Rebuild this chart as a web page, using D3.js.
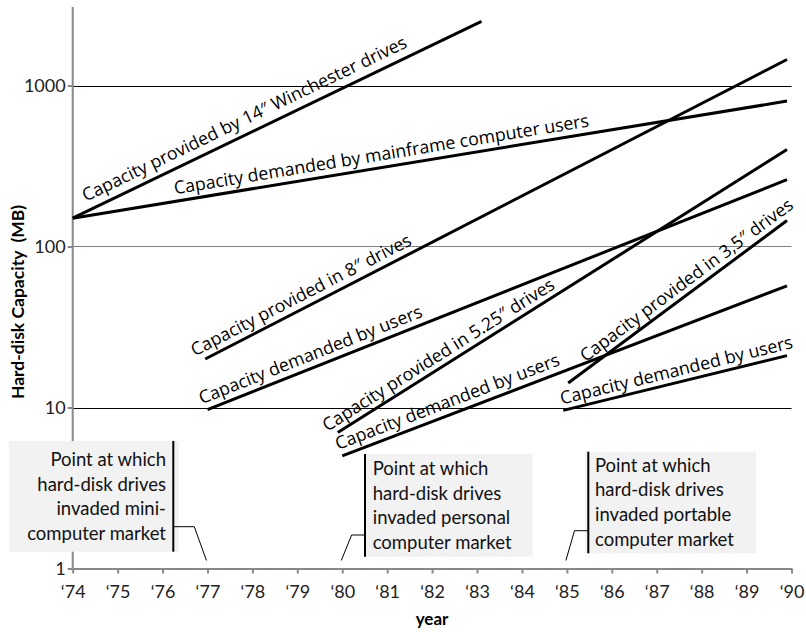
<!DOCTYPE html>
<html><head><meta charset="utf-8">
<script src="https://cdn.jsdelivr.net/npm/d3@7"></script>
<style>body{margin:0;background:#fff} svg{display:block}</style>
</head><body><svg id="c" width="806" height="632"></svg>
<script>
// ---- data ----
const years = [74,75,76,77,78,79,80,81,82,83,84,85,86,87,88,89,90];
const yearLabels = ["‘74","‘75","‘76","‘77","‘78","‘79","‘80","‘81","‘82","‘83","‘84","‘85","‘86","‘87","‘88","‘89","‘90"];
const yTicks = [1,10,100,1000];
const yTickLabels = ["1","10","100","1000"];
const seriesLabels = [
  "Capacity provided by 14″ Winchester drives",
  "Capacity demanded by mainframe computer users",
  "Capacity provided in 8″ drives",
  "Capacity demanded by users",
  "Capacity provided in 5.25″ drives",
  "Capacity demanded by users",
  "Capacity provided in 3,5″ drives",
  "Capacity demanded by users"
];
const startYear  = [74, 74, 76.95, 77, 79.9, 80, 85.03, 84.92];
const startValue = [150, 150, 20, 9.7, 7, 5, 14.2, 9.6];
const endYear    = [83.1, 89.9, 89.9, 89.9, 89.9, 89.9, 89.9, 89.9];
const endValue   = [2500, 800, 1450, 260, 400, 57, 145, 21];
const notes = [
  ["Point at which","hard-disk drives","invaded mini-","computer market"],
  ["Point at which","hard-disk drives","invaded personal","computer market"],
  ["Point at which","hard-disk drives","invaded portable","computer market"]
];
const noteYears = [77, 80, 85];

// ---- layout ----
const labelAt  = [74.38, 76.3, 76.79, 76.93, 79.74, 79.96, 85.5, 84.92]; // year along the line where text starts
const labelOff = [9, 7, 7, 7, 6, 7, 6, 6];

const svg = d3.select("#c");
const x = d3.scaleLinear().domain([74,90]).range([72.7, 791.5]);
const y = d3.scaleLog().domain([1,1000]).range([568.5, 85.5]);
const F = "Lato, 'Open Sans', sans-serif";

// gridlines
const gridColor = {10:"#000",100:"#808080",1000:"#000"};
svg.append("g").selectAll("line").data(yTicks.filter(d=>d>1)).join("line")
  .attr("x1", x(74)).attr("x2", x(90)).attr("y1", d=>Math.round(y(d))+0.5).attr("y2", d=>Math.round(y(d))+0.5)
  .attr("stroke", d=>gridColor[d]).attr("stroke-width",1);

// y axis
const ya = svg.append("g").attr("transform",`translate(${x(74)},0)`)
  .call(d3.axisLeft(y).tickValues(yTicks).tickFormat((d,i)=>yTickLabels[i]).tickSize(5).tickSizeOuter(0));
ya.select(".domain").remove();
ya.append("line").attr("x1",0).attr("x2",0).attr("y1",7).attr("y2",y(1)).attr("stroke","#888").attr("stroke-width",2);
ya.selectAll(".tick line").attr("stroke","#888").attr("stroke-width",2);
ya.selectAll(".tick text").attr("font-family",F).attr("font-size",18).attr("fill","#222").attr("x",-7);

// x axis
const xa = svg.append("g").attr("transform",`translate(0,${y(1)})`)
  .call(d3.axisBottom(x).tickValues(years).tickFormat((d,i)=>yearLabels[i]).tickSize(5).tickSizeOuter(0));
xa.select(".domain").attr("stroke","#888").attr("stroke-width",2);
xa.selectAll(".tick line").attr("stroke","#888").attr("stroke-width",2);
xa.selectAll(".tick text").attr("font-family",F).attr("font-size",18).attr("fill","#222").attr("y",17);

// axis titles
svg.append("text").attr("x",432).attr("y",625).attr("text-anchor","middle")
  .attr("font-family",F).attr("font-weight","bold").attr("font-size",17).text("year");
svg.append("text").attr("transform","translate(24,302) rotate(-90)").attr("text-anchor","middle")
  .attr("font-family",F).attr("font-weight","bold").attr("font-size",17.5).attr("xml:space","preserve").text("Hard-disk Capacity  (MB)");

// series lines
const idx = d3.range(seriesLabels.length);
svg.append("g").selectAll("line").data(idx).join("line")
  .attr("x1", i=>x(startYear[i])).attr("y1", i=>y(startValue[i]))
  .attr("x2", i=>x(endYear[i])).attr("y2", i=>y(endValue[i]))
  .attr("stroke","#000").attr("stroke-width",3);

// series labels
svg.append("g").selectAll("text").data(idx).join("text")
  .attr("transform", i=>{
    const x0=x(startYear[i]), y0=y(startValue[i]), x1=x(endYear[i]), y1=y(endValue[i]);
    const len=Math.hypot(x1-x0,y1-y0), ux=(x1-x0)/len, uy=(y1-y0)/len;
    const t=(labelAt[i]-startYear[i])/(endYear[i]-startYear[i]);
    const px=x0+t*(x1-x0)+uy*labelOff[i], py=y0+t*(y1-y0)-ux*labelOff[i];
    return `translate(${px},${py}) rotate(${Math.atan2(uy,ux)*180/Math.PI})`;
  })
  .attr("font-family","'Open Sans', sans-serif").attr("font-size",17.8).attr("fill","#000")
  .text(i=>seriesLabels[i]);

// annotation boxes
const boxLayout = [
  {align:"right", fx0:9, fx1:179, top:441, bot:551.7, border:173.3, tx:166, base:466, elbowDX:-13.2, elbowY:526.7},
  {align:"left",  fx0:365, fx1:532.7, top:454, bot:556.7, border:365, tx:372.7, base:475, elbowDX:9.4, elbowY:535},
  {align:"left",  fx0:585, fx1:756, top:451.7, bot:553.3, border:588.3, tx:595, base:471.7, elbowDX:7.6, elbowY:530.7}
];
const lineGap = 24.6;
notes.forEach((lines,k)=>{
  const b = boxLayout[k], ax = x(noteYears[k]), ay = y(1) - 8;
  const g = svg.append("g");
  g.append("rect").attr("x",b.fx0).attr("y",b.top).attr("width",b.fx1-b.fx0).attr("height",b.bot-b.top).attr("fill","#f2f2f2");
  g.append("line").attr("x1",b.border).attr("x2",b.border).attr("y1",b.top).attr("y2",b.bot).attr("stroke","#000").attr("stroke-width",2);
  g.append("polyline").attr("points",`${b.border},${b.elbowY} ${ax+b.elbowDX},${b.elbowY} ${ax-1},${ay}`)
    .attr("fill","none").attr("stroke","#000").attr("stroke-width",1);
  g.selectAll("text").data(lines).join("text")
    .attr("x",b.tx).attr("y",(d,i)=>b.base+i*lineGap)
    .attr("text-anchor", b.align==="right"?"end":"start")
    .attr("font-family",F).attr("font-size",18.5).attr("fill","#111").text(d=>d);
});
</script></body></html>
